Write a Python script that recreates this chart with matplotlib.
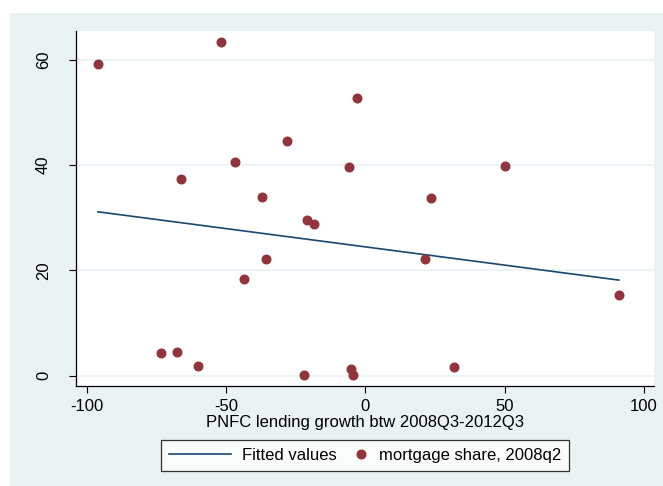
#!/usr/bin/env python3
"""Mortgage share vs PNFC lending growth, Stata s2color look."""
import matplotlib
matplotlib.use("Agg")
import matplotlib.pyplot as plt
from matplotlib.legend_handler import HandlerLine2DCompound
from matplotlib.patches import Rectangle
import numpy as np

# PNFC lending growth btw 2008Q3-2012Q3 (%)
lending_growth = [-95.9, -51.6, -3.1, -28.0, -46.9, -6.0, 50.2, -66.0, -37.2, 23.5,
                  -20.8, -18.3, -35.8, 21.6, -43.4, 91.0, -73.3, -67.4, -60.1, -21.9,
                  -5.2, -4.3, 32.0]
# mortgage share, 2008q2 (%)
mortgage_share = [59.3, 63.5, 52.7, 44.6, 40.7, 39.7, 39.9, 37.4, 33.9, 33.8,
                  29.6, 28.8, 22.1, 22.2, 18.3, 15.3, 4.4, 4.5, 1.8, 0.1,
                  1.2, 0.1, 1.6]

x_ticks = [-100, -50, 0, 50, 100]
y_ticks = [0, 20, 40, 60]

BG = "#eaf2f3"
NAVY = "#1a476f"
MAROON = "#90353b"

plt.rcParams["font.family"] = ["Liberation Sans", "DejaVu Sans"]
plt.rcParams["axes.unicode_minus"] = False


class RightMarkerHandler(HandlerLine2DCompound):
    """Put the legend marker near the right end of its key, like Stata."""

    def get_xdata(self, legend, xdescent, ydescent, width, height, fontsize):
        xdata, _ = super().get_xdata(legend, xdescent, ydescent, width, height, fontsize)
        return xdata, np.array([width - xdescent - 5.0])


x = np.array(lending_growth)
y = np.array(mortgage_share)
slope, intercept = np.polyfit(x, y, 1)
fit_x = np.array([x.min(), x.max()])
fit_y = intercept + slope * fit_x

fig = plt.figure(figsize=(6.63, 4.86), dpi=100, facecolor="white")
fig.patches.append(Rectangle((10 / 663, 0), 1, 1 - 13 / 486, transform=fig.transFigure,
                             facecolor=BG, edgecolor="none", zorder=-10))

ax = fig.add_axes([76 / 663, 1 - 386 / 486, (654 - 76) / 663, (386 - 31) / 486])
ax.set_facecolor("white")

line, = ax.plot(fit_x, fit_y, color=NAVY, lw=1.2, label="Fitted values", zorder=3)
pts, = ax.plot(x, y, ls="none", marker="o", ms=6.2, color=MAROON, mec=MAROON,
               label="mortgage share, 2008q2", zorder=4)

ax.set_xlim(-103.8, 103.6)
ax.set_ylim(-1.96, 65.5)
ax.set_xticks(x_ticks)
ax.set_yticks(y_ticks)
ax.set_yticklabels([str(v) for v in y_ticks], rotation=90, va="center")

for v in y_ticks:
    ax.axhline(v, color=BG, lw=1.2, zorder=1)

for side in ("top", "right"):
    ax.spines[side].set_visible(False)
for side in ("left", "bottom"):
    ax.spines[side].set_color("black")
    ax.spines[side].set_linewidth(0.9)

ax.tick_params(axis="both", direction="out", length=5, width=0.8, labelsize=12)
ax.tick_params(axis="y", pad=13)
ax.tick_params(axis="x", pad=4)
ax.set_xlabel("PNFC lending growth btw 2008Q3-2012Q3", fontsize=12, labelpad=1)

leg = fig.legend(handles=[line, pts], loc="center", bbox_to_anchor=(365 / 663, 1 - 455.5 / 486),
                 ncol=2, fontsize=12, frameon=True, fancybox=False, edgecolor="black",
                 handlelength=3.7, handletextpad=0.65, columnspacing=-1.8, borderpad=0.5,
                 numpoints=1, handler_map={pts: RightMarkerHandler(numpoints=1)})
leg.get_frame().set_linewidth(0.9)
leg.get_frame().set_facecolor("white")

fig.savefig("out.png", dpi=100, facecolor="white")
